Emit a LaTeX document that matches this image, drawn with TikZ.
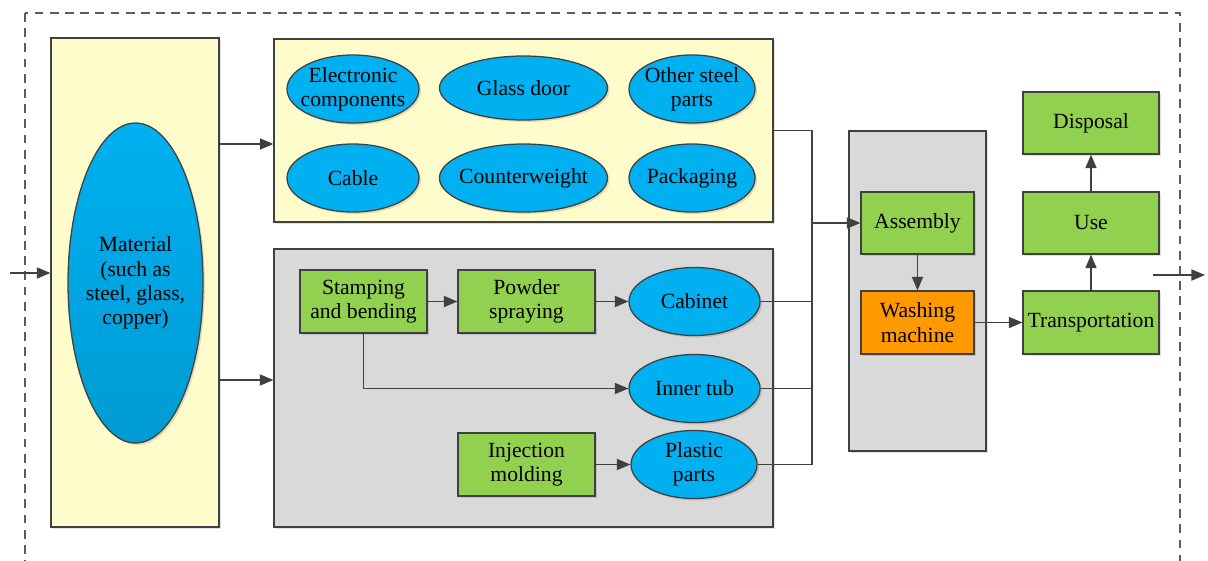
\documentclass[tikz,border=0pt]{standalone}
\usepackage{fontspec}
\setmainfont{Liberation Serif}
\newfontfamily\texteserif{Liberation Serif}
\usepackage{xcolor}
\usetikzlibrary{shapes.geometric}
\usetikzlibrary{positioning}
\usetikzlibrary{arrows.meta,calc}
\usetikzlibrary{shadows}

\definecolor{jaune}{RGB}{255,252,204}
\definecolor{gris}{RGB}{217,217,217}
\definecolor{vert}{RGB}{146,208,80}
\definecolor{bleu}{RGB}{0,176,240}
\definecolor{orangec}{RGB}{255,153,0}
\definecolor{trait}{RGB}{64,64,64}

\begin{document}
\begin{tikzpicture} [
  font = \texteserif\fontsize{15.4}{17.2}\selectfont,
  ombre/.style = {drop shadow = {shadow xshift = 0.05cm, shadow yshift = -0.05cm, opacity = 0.12, fill = black}},
  cadre/.style = {rectangle, draw = trait, line width = 0.9pt, inner sep = 0pt, ombre},
  etape/.style = {rectangle, draw = trait, line width = 0.9pt, fill = vert, align = center, minimum height = 1.575cm, inner sep = 0pt, ombre},
  piece/.style = {ellipse, draw = trait, line width = 0.9pt, fill = bleu, align = center, minimum height = 1.7cm, inner ysep = 0pt, inner xsep = -0.45cm, ombre},
  line/.style = {draw = trait, line width = 0.9pt},
  fleche/.style = {line, -{Triangle[length = 3.4mm, width = 2.8mm]}},
]

 \useasboundingbox (0,0) rectangle (30.2,-14);
 \clip (0,0) rectangle (30.2,-14);

 % frontiere du systeme
 \draw [trait!85, line width = 0.9pt, dash pattern = on 2.2mm off 1.6mm] (0.625,-0.325) rectangle (29.5,-15);

 % matiere premiere
 \node [cadre, fill = jaune, minimum width = 4.2cm, minimum height = 12.225cm] (matbox) at (3.375,-7.0625) {};
 \node [piece, top color = bleu, bottom color = bleu!88!black, minimum width = 3.375cm, minimum height = 8cm] (mat) at (3.3875,-7.075) {Material\\(such as\\steel, glass,\\copper)};

 % pieces achetees
 \node [cadre, fill = jaune, minimum width = 12.475cm, minimum height = 4.575cm] (achat) at (13.0875,-3.2625) {};
 \node [piece, minimum width = 3.3cm] (elec) at (8.825,-2.225) {Electronic\\components};
 \node [piece, minimum width = 4.2cm, minimum height = 1.6cm, node distance = 4.2625cm, right of = elec, yshift = 0.025cm] (verre) {Glass door};
 \node [piece, minimum width = 3.15cm, node distance = 4.2125cm, right of = verre, yshift = -0.025cm] (acier) {Other steel\\parts};
 \node [piece, minimum width = 3.3cm, node distance = 2.225cm, below of = elec] (cable) {Cable};
 \node [piece, minimum width = 4.2cm, node distance = 4.2625cm, right of = cable] (contre) {Counterweight};
 \node [piece, minimum width = 3.15cm, node distance = 4.2125cm, right of = contre] (emball) {Packaging};

 % fabrication
 \node [cadre, fill = gris, minimum width = 12.475cm, minimum height = 6.95cm, node distance = 6.4375cm, below of = achat] (fab) {};
 \node [etape, minimum width = 3.175cm] (estamp) at (9.0875,-7.5375) {Stamping\\and bending};
 \node [etape, minimum width = 3.425cm, node distance = 4.075cm, right of = estamp] (poudre) {Powder\\spraying};
 \node [piece, minimum width = 3.275cm, node distance = 4.2cm, right of = poudre] (caisse) {Cabinet};
 \node [piece, minimum width = 3.275cm, node distance = 2.175cm, below of = caisse] (cuve) {Inner tub};
 \node [etape, minimum width = 3.425cm, node distance = 4.075cm, below of = poudre] (inject) {Injection\\molding};
 \node [piece, minimum width = 3.15cm, node distance = 4.1875cm, right of = inject] (plast) {Plastic\\parts};

 % assemblage et aval
 \node [cadre, fill = gris, minimum width = 3.425cm, minimum height = 8cm] (usine) at (22.9375,-7.275) {};
 \node [etape, minimum width = 2.825cm, minimum height = 1.55cm] (assem) at (22.9375,-5.575) {Assembly};
 \node [etape, fill = orangec, minimum width = 2.825cm, node distance = 2.4875cm, below of = assem] (machine) {Washing\\machine};
 \node [etape, minimum width = 3.4cm, node distance = 4.3375cm, right of = machine] (transp) {Transportation};
 \node [etape, minimum width = 3.4cm, minimum height = 1.55cm, node distance = 2.4875cm, above of = transp] (usage) {Use};
 \node [etape, minimum width = 3.4cm, minimum height = 1.55cm, node distance = 2.5cm, above of = usage] (fin) {Disposal};

 \coordinate (entree) at (0.25,-6.825);
 \coordinate (jonction) at (20.3,-5.575);
 \coordinate (sortie1) at (28.825,-6.875);
 \coordinate (sortie2) at (30.125,-6.875);

 % collecte vers l'assemblage
 \path [line] (achat.east) -- (achat.east -| jonction) -- (plast.east -| jonction) -- (plast.east);
 \path [line] (caisse.east) -- (caisse.east -| jonction);
 \path [line] (cuve.east) -- (cuve.east -| jonction);

 \begin{scope}[every path/.style = fleche]
\path (entree) -- (entree -| matbox.west);
\path ([yshift = -0.3375cm]achat.west -| matbox.east) -- ([yshift = -0.3375cm]achat.west);
\path ([yshift = 0.2cm]fab.west -| matbox.east) -- ([yshift = 0.2cm]fab.west);
\path (estamp) -- (poudre);
\path (poudre) -- (caisse);
\path (estamp.south) |- (cuve.west);
\path (inject) -- (plast);
\path (jonction) -- (assem.west);
\path (assem) -- (machine);
\path (machine) -- (transp);
\path (transp) -- (usage);
\path (usage) -- (fin);
\path (sortie1) -- (sortie2);
\end{scope}

\end{tikzpicture}
\end{document}
